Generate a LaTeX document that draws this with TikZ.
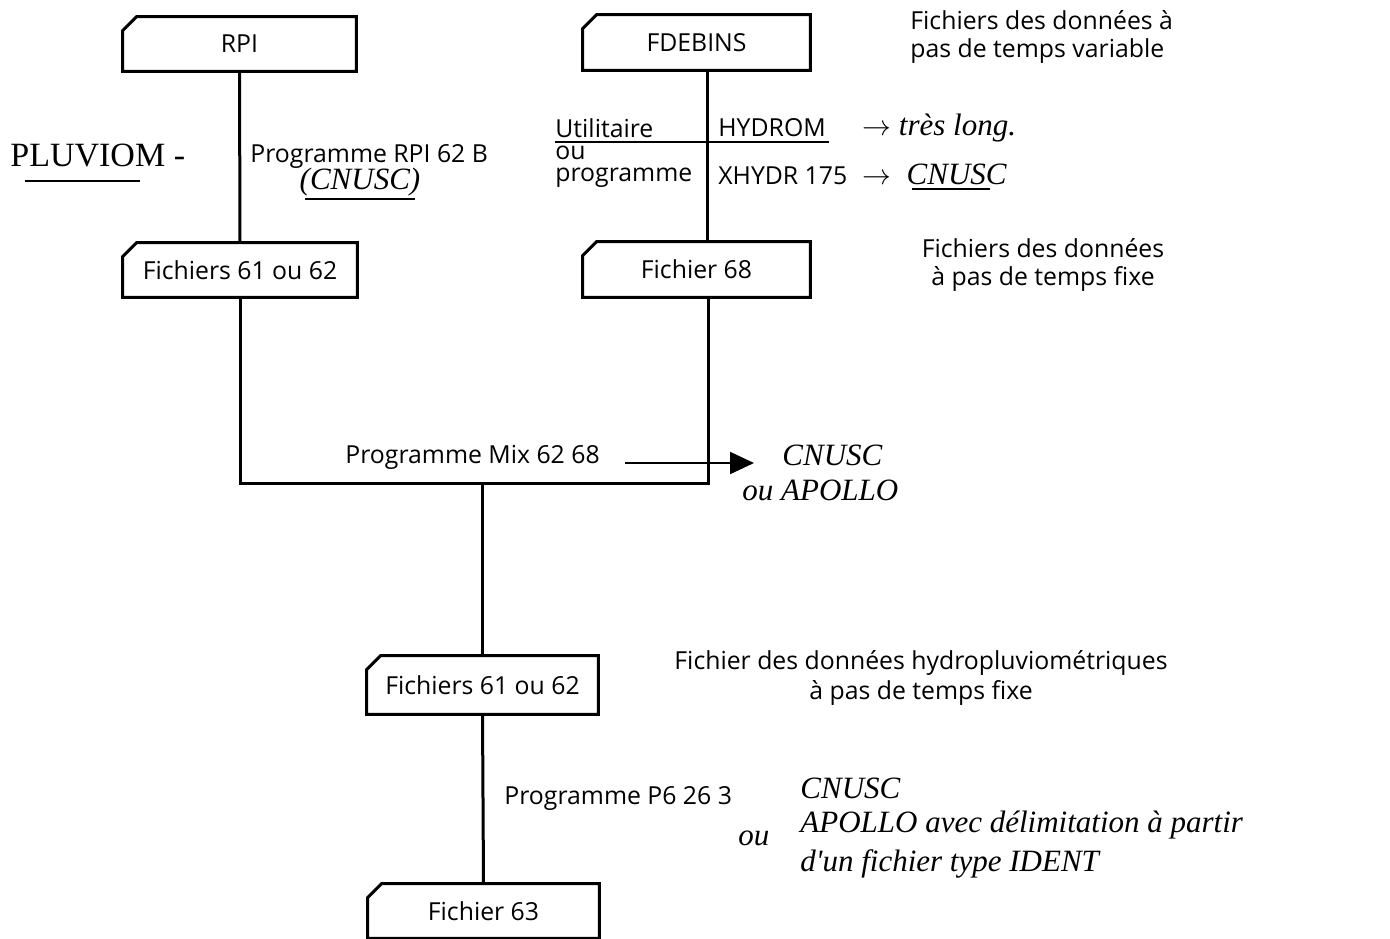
\documentclass[tikz,border=0pt]{standalone}
\usepackage{fontspec}
\setmainfont{Open Sans}
\newfontfamily\handfont{Liberation Serif}
\usetikzlibrary{arrows.meta}
\tikzset{
  lbl/.style={inner sep=0pt, font=\fontsize{12.4}{14}\selectfont},
  hand/.style={inner sep=0pt, font=\handfont\itshape\fontsize{15.5}{16}\selectfont},
  card/.style={inner sep=0pt, font=\fontsize{12.4}{14}\selectfont},
  conn/.style={line width=1.5pt},
  frame/.style={line width=1.5pt, line join=miter},
  thin/.style={line width=1pt}
}
\newcommand{\cardframe}[1]{%
  \draw[frame] ([xshift=7pt]#1.north west) -- (#1.north east) -- (#1.south east)
    -- (#1.south west) -- ([yshift=-7pt]#1.north west) -- cycle;}
\begin{document}
\begin{tikzpicture}[x=0.5pt,y=-0.5pt]
\useasboundingbox (0,0) rectangle (1390,938);
% boxes
\node[card, minimum width=116.5pt, minimum height=27pt] (rpi) at (239.5,44) {RPI};
\node[card, minimum width=113.5pt, minimum height=27.5pt] (fdebins) at (696.5,42.5) {FDEBINS};
\node[card, minimum width=117pt, minimum height=27pt] (f6162a) at (240,270) {Fichiers 61 ou 62};
\node[card, minimum width=113.5pt, minimum height=27.5pt] (f68) at (696.5,269.5) {Fichier 68};
\node[card, minimum width=115.5pt, minimum height=29pt] (f6162b) at (482.5,685) {Fichiers 61 ou 62};
\node[card, minimum width=115.5pt, minimum height=27pt] (f63) at (483.5,911) {Fichier 63};
\cardframe{rpi}
\cardframe{fdebins}
\cardframe{f6162a}
\cardframe{f68}
\cardframe{f6162b}
\cardframe{f63}
% connectors
\draw[conn] (rpi.south) -- (f6162a.north);
\draw[conn] ([xshift=5.5pt]fdebins.south) -- ([xshift=5.5pt]f68.north);
\coordinate (mixL) at (240,483);
\coordinate (mixR) at (708,483);
\coordinate (mixM) at (482.5,483);
\draw[conn] (f6162a.south) -- (mixL) -- (mixR) -- ([xshift=5.75pt]f68.south);
\draw[conn] (mixM) -- (f6162b.north);
\draw[conn] (f6162b.south) -- (f63.north);
% arrow
\coordinate (arS) at (625,463);
\coordinate (arE) at (754,463);
\draw[thin, -{Triangle[length=12pt,width=11pt]}] (arS) -- (arE);
% texts
\node[lbl, anchor=west] (t1) at (250,156) {Programme RPI 62 B};
\node[hand] (h1) at (360,182) {(CNUSC)};
\draw[thin] (305,199) -- (415,199);
\node[hand, anchor=west, font=\handfont\fontsize{17}{18}\selectfont] (h2) at (10,155) {PLUVIOM -};
\draw[thin] (25,181) -- (140,181);
\node[lbl, anchor=west] (t2) at (555,128) {Utilitaire};
\node[lbl, anchor=west] (t3) at (555,153) {ou};
\node[lbl, anchor=west] (t4) at (555,178) {programme};
\draw[thin] (555,142) -- (829,142);
\node[lbl, anchor=west] (t5) at (718,128) {HYDROM};
\node[hand, anchor=west] (h3) at (862,128) {$\rightarrow$ très long.};
\node[lbl, anchor=west] (t6) at (718,176) {XHYDR 175};
\node[hand, anchor=west] (h4) at (862,174) {$\rightarrow$ \ CNUSC};
\draw[thin] (912,189) -- (990,189);
\node[lbl, anchor=west] (t7) at (910,20) {Fichiers des données à};
\node[lbl, anchor=west] (t8) at (910,51) {pas de temps variable};
\node[lbl] (t9) at (1043,248) {Fichiers des données};
\node[lbl] (t10) at (1043,279) {à pas de temps fixe};
\node[lbl, anchor=west] (t11) at (345,457) {Programme Mix 62 68};
\node[hand, anchor=west] (h5) at (782,455) {CNUSC};
\node[hand, anchor=west] (h6) at (742,490) {ou APOLLO};
\node[lbl] (t12) at (921,663) {Fichier des données hydropluviométriques};
\node[lbl] (t13) at (921,693) {à pas de temps fixe};
\node[lbl, anchor=west] (t14) at (504,798) {Programme P6 26 3};
\node[hand, anchor=west] (h7) at (800,788) {CNUSC};
\node[hand, anchor=west] (h8) at (738,838) {ou};
\node[hand, anchor=west] (h9) at (800,825) {APOLLO avec délimitation à partir};
\node[hand, anchor=west] (h10) at (800,864) {d'un fichier type IDENT};
\end{tikzpicture}
\end{document}
